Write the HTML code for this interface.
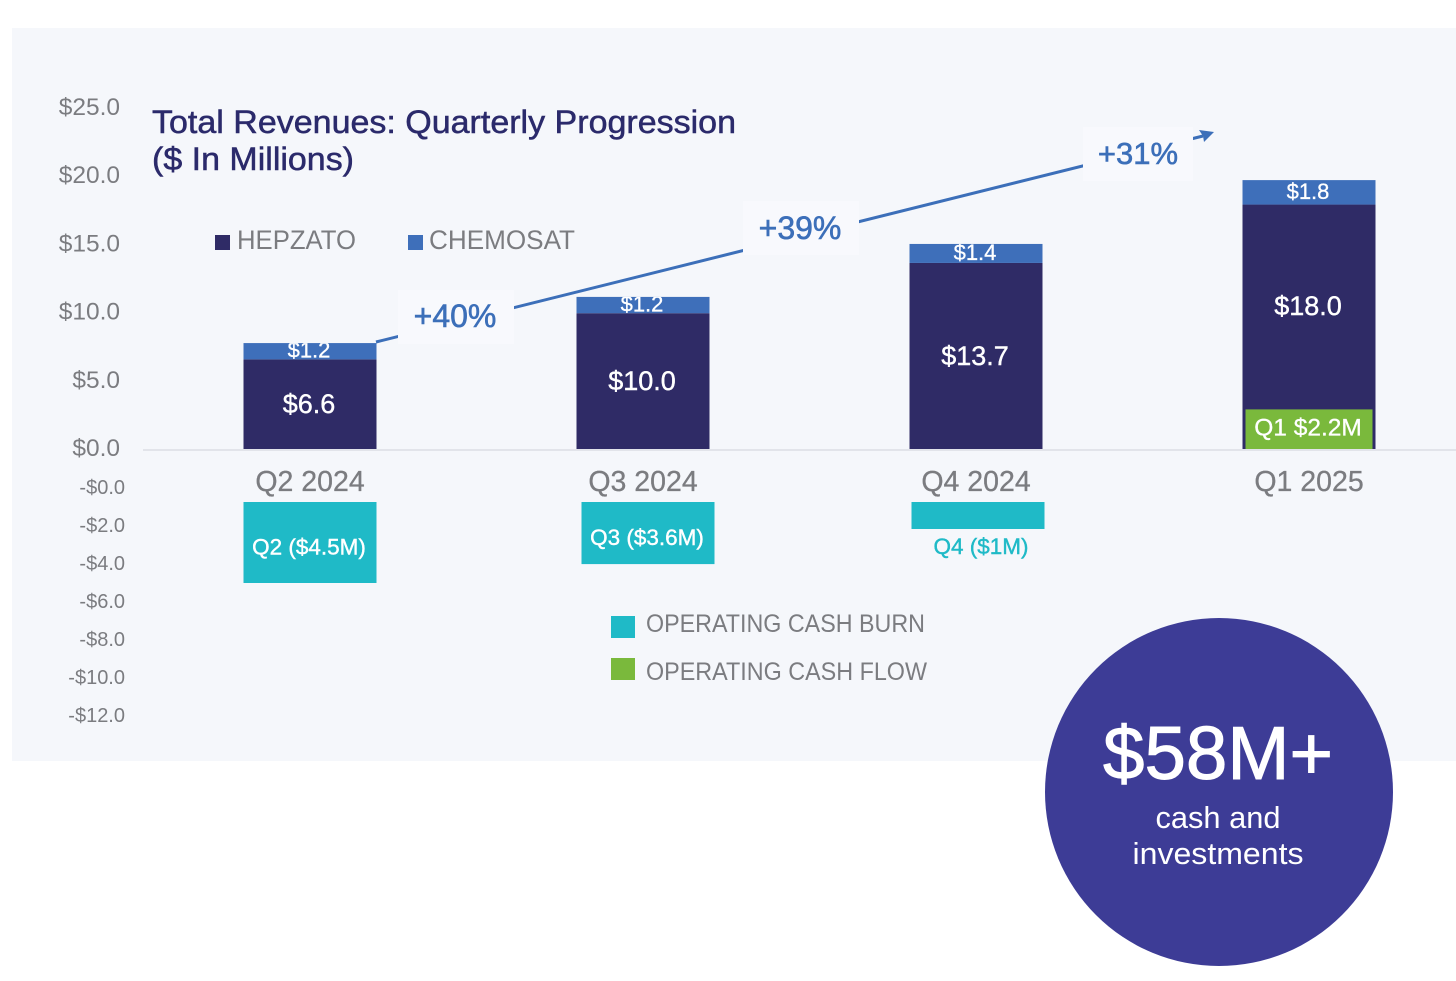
<!DOCTYPE html>
<html lang="en">
<head>
<meta charset="utf-8">
<title>Total Revenues: Quarterly Progression</title>
<style>
html,body{margin:0;padding:0;background:#fff;width:1456px;height:981px;overflow:hidden}
svg{display:block;font-family:"Liberation Sans",Arial,sans-serif}
</style>
</head>
<body>
<svg id="chart" width="1456" height="981" viewBox="0 0 1456 981" xmlns="http://www.w3.org/2000/svg">
  <rect x="12" y="28" width="1444" height="733" fill="#f5f7fb"/>
  <g fill="#2b2a6b" stroke="#2b2a6b" stroke-width="0.5" font-size="32">
    <text x="152" y="133" textLength="584" lengthAdjust="spacingAndGlyphs">Total Revenues: Quarterly Progression</text>
    <text x="152" y="170" textLength="202" lengthAdjust="spacingAndGlyphs">($ In Millions)</text>
  </g>
  <line x1="143" y1="450" x2="1456" y2="450" stroke="#e2e4ea" stroke-width="2"/>
  <g id="yticks"></g>
  <g id="nticks"></g>
  <g id="bars"></g>
  <g id="burn"></g>
  <g id="cats"></g>

  <g>
    <line x1="376" y1="342" x2="1203" y2="136" stroke="#3c6fb9" stroke-width="3"/>
    <polygon points="1214,132 1199,130 1203,136 1204,142" fill="#3c6fb9"/>
    <g>
      <rect x="398" y="290" width="116" height="54" fill="#f8f9fd"/>
      <text x="455" y="327" text-anchor="middle" font-size="32" fill="#3c6fb9" stroke="#3c6fb9" stroke-width="0.6">+40%</text>
    </g>
    <g>
      <rect x="743" y="201" width="116" height="54" fill="#f8f9fd"/>
      <text x="800" y="239" text-anchor="middle" font-size="32" fill="#3c6fb9" stroke="#3c6fb9" stroke-width="0.6">+39%</text>
    </g>
    <g>
      <rect x="1083" y="127" width="110" height="54" fill="#f8f9fd"/>
      <text x="1138" y="164" text-anchor="middle" font-size="31" fill="#3c6fb9" stroke="#3c6fb9" stroke-width="0.6">+31%</text>
    </g>
  </g>

  <g>
    <rect x="215" y="235" width="15" height="15" fill="#2f2b66"/>
    <text x="237" y="249" font-size="27" fill="#7b7c80" textLength="119" lengthAdjust="spacingAndGlyphs">HEPZATO</text>
    <rect x="408" y="235" width="15" height="15" fill="#3e6fba"/>
    <text x="429" y="249" font-size="27" fill="#7b7c80" textLength="146" lengthAdjust="spacingAndGlyphs">CHEMOSAT</text>
  </g>
  <g>
    <rect x="611" y="616" width="24" height="22" fill="#1fbac7"/>
    <text x="646" y="632" font-size="25" fill="#7b7c80" textLength="279" lengthAdjust="spacingAndGlyphs">OPERATING CASH BURN</text>
    <rect x="611" y="658" width="24" height="22" fill="#7ab93c"/>
    <text x="646" y="680" font-size="25" fill="#7b7c80" textLength="281" lengthAdjust="spacingAndGlyphs">OPERATING CASH FLOW</text>
  </g>

  <g>
    <circle cx="1219" cy="792" r="174" fill="#3d3c96"/>
    <text x="1218" y="779" text-anchor="middle" font-size="75" fill="#fff" stroke="#fff" stroke-width="1" textLength="230" lengthAdjust="spacingAndGlyphs">$58M+</text>
    <text x="1218" y="828" text-anchor="middle" font-size="31" fill="#fff" textLength="125" lengthAdjust="spacingAndGlyphs">cash and</text>
    <text x="1218" y="864" text-anchor="middle" font-size="31" fill="#fff" textLength="171" lengthAdjust="spacingAndGlyphs">investments</text>
  </g>
</svg>
<script>
const categories = ["Q2 2024", "Q3 2024", "Q4 2024", "Q1 2025"];
const hepzato = [6.6, 10.0, 13.7, 18.0];
const chemosat = [1.2, 1.2, 1.4, 1.8];
const hepzatoLabels = ["$6.6", "$10.0", "$13.7", "$18.0"];
const chemosatLabels = ["$1.2", "$1.2", "$1.4", "$1.8"];
const cashBurn = [4.5, 3.45, 1.5];
const cashBurnLabels = ["Q2 ($4.5M)", "Q3 ($3.6M)", "Q4 ($1M)"];
const cashFlow = [2.2];
const cashFlowLabels = ["Q1 $2.2M"];
const revenueTicks = [25, 20, 15, 10, 5, 0];
const revenueTickLabels = ["$25.0", "$20.0", "$15.0", "$10.0", "$5.0", "$0.0"];
const cashTicks = [0, 2, 4, 6, 8, 10, 12];
const cashTickLabels = ["-$0.0", "-$2.0", "-$4.0", "-$6.0", "-$8.0", "-$10.0", "-$12.0"];

const NS = "http://www.w3.org/2000/svg";
const svg = document.getElementById("chart");
const xC = i => 310 + i * 333;
const yBar = v => 449 - v * 13.58;
const yTick = v => 447 - v * 13.64;
const yNeg = v => 487 + v * 19;
const cashScale = v => v * 18;
const BAR_W = 133;

function mk(parent, tag, attrs, name, interact) {
  const el = document.createElementNS(NS, tag);
  for (const k in attrs) el.setAttribute(k, attrs[k]);
  
  
  parent.appendChild(el);
  return el;
}
function label(parent, x, y, size, fill, str, name, weight) {
  const t = mk(parent, "text", {x: x, y: y, "font-size": size, fill: fill, "text-anchor": "middle", stroke: fill, "stroke-width": weight}, name, "false");
  t.textContent = str;
  return t;
}

const yT = document.getElementById("yticks");
revenueTicks.forEach((v, i) => {
  const t = mk(yT, "text", {x: 120, y: yTick(v) + 9, "font-size": 24.5, fill: "#7b7c80", "text-anchor": "end"}, "y-tick-" + v, "false");
  t.textContent = revenueTickLabels[i];
});
const nT = document.getElementById("nticks");
cashTicks.forEach((v, i) => {
  const t = mk(nT, "text", {x: 125, y: yNeg(v) + 7, "font-size": 20, fill: "#7b7c80", "text-anchor": "end"}, "cash-tick-" + v, "false");
  t.textContent = cashTickLabels[i];
});

const bars = document.getElementById("bars");
const defs = mk(svg, "defs", {}, "clip-defs", "false");
categories.forEach((c, i) => {
  const x = xC(i) - BAR_W / 2;
  const y0 = yBar(0), y1 = yBar(hepzato[i]), y2 = yBar(hepzato[i] + chemosat[i]);
  mk(bars, "rect", {x: x, y: y1, width: BAR_W, height: y0 - y1, fill: "#2f2b66"}, "hepzato-bar-" + i, "false");
  mk(bars, "rect", {x: x, y: y2, width: BAR_W, height: y1 - y2, fill: "#3e6fba"}, "chemosat-bar-" + i, "false");

  const clip = mk(defs, "clipPath", {id: "clip" + i}, "chemosat-clip-" + i, "false");
  mk(clip, "rect", {x: x, y: y2, width: BAR_W, height: y1 - y2}, "chemosat-clip-rect-" + i, "false");
  const small = label(bars, xC(i) - 1, (y1 + y2) / 2 + 6.5, 22, "#fff", chemosatLabels[i], "chemosat-value-" + i, 0.3);
  small.setAttribute("clip-path", "url(#clip" + i + ")");

  let bottom = y0;
  if (i === 3) {
    const h = cashScale(cashFlow[0]);
    mk(bars, "rect", {x: xC(i) - 63.5, y: y0 - h, width: 127, height: h, fill: "#7ab93c"}, "cash-flow-bar-q1", "false");
    label(bars, xC(i) - 1, y0 - h / 2 + 6.5, 24.5, "#fff", cashFlowLabels[0], "cash-flow-value-q1", 0.3);
    bottom = y0 - h;
  }
  label(bars, xC(i) - 1, (y1 + bottom) / 2 + (i === 3 ? 8 : 9), 27, "#fff", hepzatoLabels[i], "hepzato-value-" + i, 0.4);
});

const burn = document.getElementById("burn");
cashBurn.forEach((v, i) => {
  const shift = i === 0 ? 0 : (i === 1 ? 5 : 2);
  const top = 502;
  const h = cashScale(v);
  const cx = xC(i) + shift;
  mk(burn, "rect", {x: cx - BAR_W / 2, y: top, width: BAR_W, height: h, fill: "#1fbac7"}, "cash-burn-bar-" + i, "false");
  const inside = h > 40;
  const ly = inside ? top + h / 2 + 12 : top + h + 25;
  label(burn, inside ? cx - 1 : cx + 3, ly, 22.5, inside ? "#fff" : "#1fbac7", cashBurnLabels[i], "cash-burn-value-" + i, 0.4);
});

const cats = document.getElementById("cats");
categories.forEach((c, i) => {
  label(cats, xC(i), 491, 28.5, "#7b7c80", c, "x-label-" + i, 0.3);
});
</script>
</body>
</html>
